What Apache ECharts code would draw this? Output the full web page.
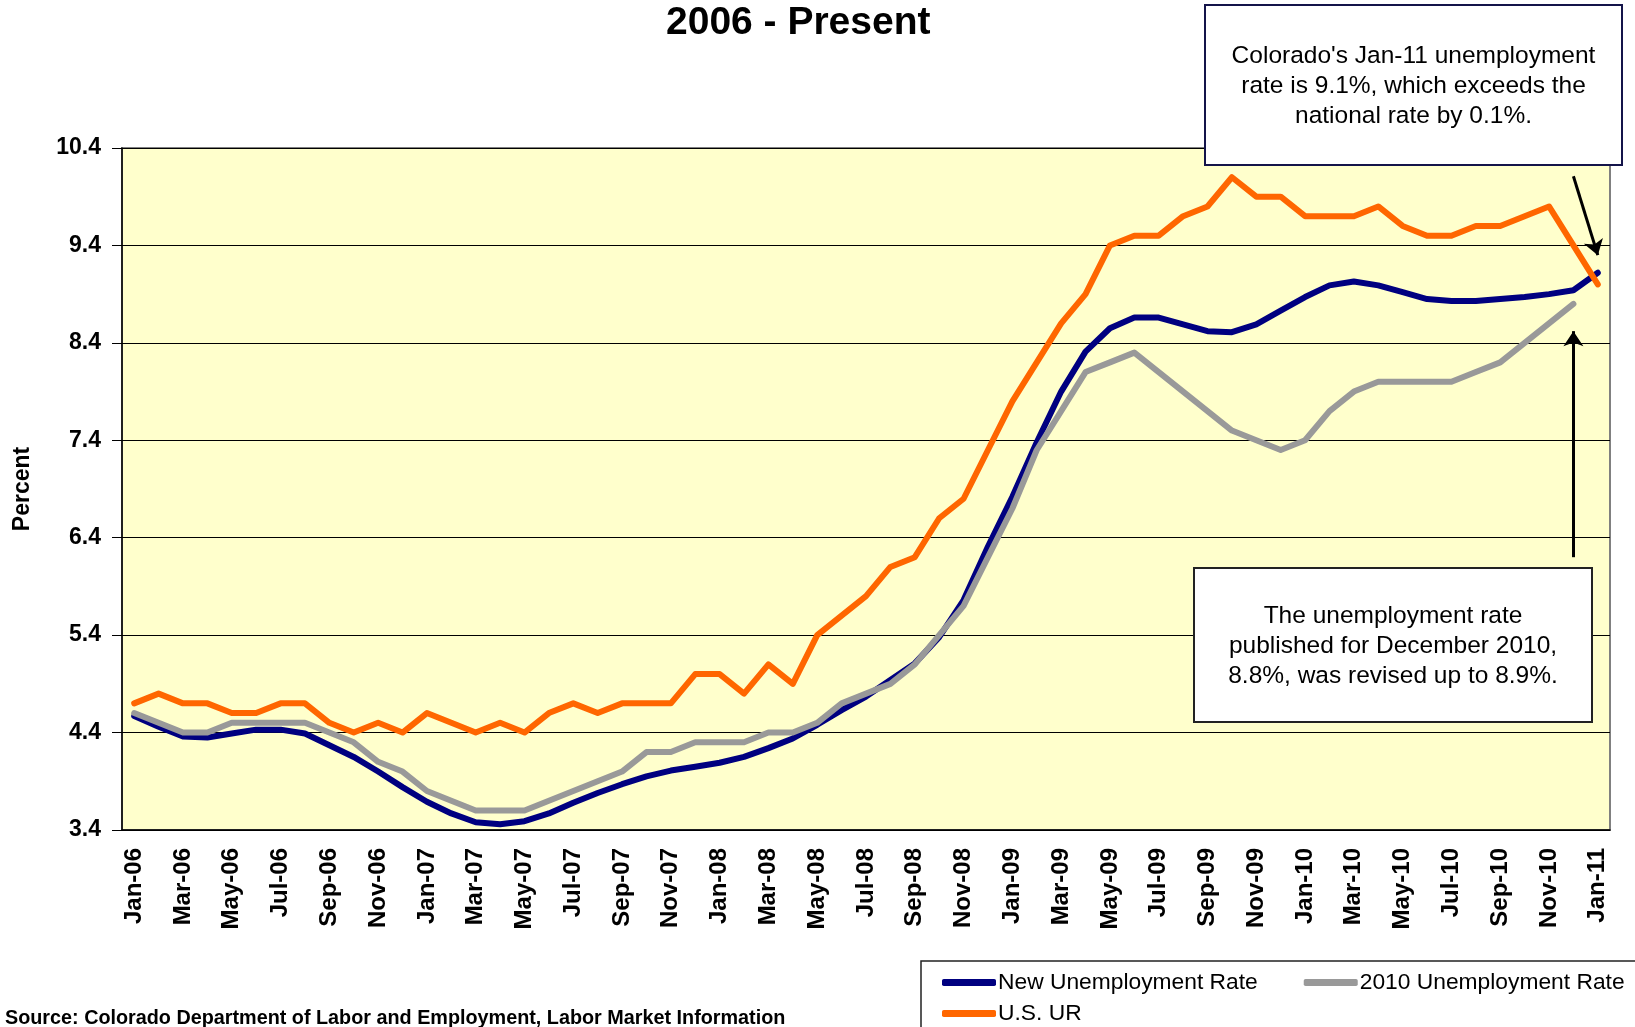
<!DOCTYPE html>
<html>
<head>
<meta charset="utf-8">
<title>Colorado unemployment rate 2006 - Present</title>
<script src="https://cdn.jsdelivr.net/npm/echarts@6/dist/echarts.min.js"></script>
<style>
  html, body { margin: 0; padding: 0; background: #fff; }
  #main { width: 1635px; height: 1027px; }
</style>
</head>
<body>
<div id="main"></div>
<script>
var FONT = '"Liberation Sans", Arial, sans-serif';

var months = [
    'Jan-06', 'Feb-06', 'Mar-06', 'Apr-06', 'May-06', 'Jun-06', 'Jul-06', 'Aug-06', 'Sep-06', 'Oct-06', 'Nov-06', 'Dec-06',
    'Jan-07', 'Feb-07', 'Mar-07', 'Apr-07', 'May-07', 'Jun-07', 'Jul-07', 'Aug-07', 'Sep-07', 'Oct-07', 'Nov-07', 'Dec-07',
    'Jan-08', 'Feb-08', 'Mar-08', 'Apr-08', 'May-08', 'Jun-08', 'Jul-08', 'Aug-08', 'Sep-08', 'Oct-08', 'Nov-08', 'Dec-08',
    'Jan-09', 'Feb-09', 'Mar-09', 'Apr-09', 'May-09', 'Jun-09', 'Jul-09', 'Aug-09', 'Sep-09', 'Oct-09', 'Nov-09', 'Dec-09',
    'Jan-10', 'Feb-10', 'Mar-10', 'Apr-10', 'May-10', 'Jun-10', 'Jul-10', 'Aug-10', 'Sep-10', 'Oct-10', 'Nov-10', 'Dec-10',
    'Jan-11'
];

// Colorado, revised series
var newRate = [
    4.57, 4.46, 4.36, 4.35, 4.39, 4.43, 4.43, 4.39, 4.27, 4.15, 4.0, 3.84,
    3.69, 3.57, 3.48, 3.46, 3.49, 3.57, 3.68, 3.78, 3.87, 3.95, 4.01, 4.05,
    4.09, 4.15, 4.24, 4.34, 4.48, 4.63, 4.77, 4.94, 5.11, 5.38, 5.76, 6.31,
    6.82, 7.38, 7.9, 8.31, 8.55, 8.66, 8.66, 8.59, 8.52, 8.51, 8.59, 8.73,
    8.87, 8.99, 9.03, 8.99, 8.92, 8.85, 8.83, 8.83, 8.85, 8.87, 8.9, 8.94,
    9.12
];

// Colorado, series as published in 2010 (ends Dec-10)
var oldRate = [
    4.6, 4.5, 4.4, 4.4, 4.5, 4.5, 4.5, 4.5, 4.4, 4.3, 4.1, 4.0,
    3.8, 3.7, 3.6, 3.6, 3.6, 3.7, 3.8, 3.9, 4.0, 4.2, 4.2, 4.3,
    4.3, 4.3, 4.4, 4.4, 4.5, 4.7, 4.8, 4.9, 5.1, 5.4, 5.7, 6.2,
    6.7, 7.3, 7.7, 8.1, 8.2, 8.3, 8.1, 7.9, 7.7, 7.5, 7.4, 7.3,
    7.4, 7.7, 7.9, 8.0, 8.0, 8.0, 8.0, 8.1, 8.2, 8.4, 8.6, 8.8,
    null
];

var usRate = [
    4.7, 4.8, 4.7, 4.7, 4.6, 4.6, 4.7, 4.7, 4.5, 4.4, 4.5, 4.4,
    4.6, 4.5, 4.4, 4.5, 4.4, 4.6, 4.7, 4.6, 4.7, 4.7, 4.7, 5.0,
    5.0, 4.8, 5.1, 4.9, 5.4, 5.6, 5.8, 6.1, 6.2, 6.6, 6.8, 7.3,
    7.8, 8.2, 8.6, 8.9, 9.4, 9.5, 9.5, 9.7, 9.8, 10.1, 9.9, 9.9,
    9.7, 9.7, 9.7, 9.8, 9.6, 9.5, 9.5, 9.6, 9.6, 9.7, 9.8, 9.4,
    9.0
];

var seriesNames = ['New Unemployment Rate', '2010 Unemployment Rate', 'U.S. UR'];

// y axis: 3.4 .. 10.4 step 1
var yMin = 3.4, yMax = 10.4, yStep = 1;

// annotation arrows (from -> to), in chart coordinates
var arrowTop = [['Dec-10', 10.11], ['Jan-11', 9.3]];
var arrowBottom = [['Dec-10', 6.2], ['Dec-10', 8.52]];

var note1 = "Colorado's Jan-11 unemployment\nrate is 9.1%, which exceeds the\nnational rate by 0.1%.";
var note2 = 'The unemployment rate\npublished for December 2010,\n8.8%, was revised up to 8.9%.';

var chartDom = document.getElementById('main');
var myChart = echarts.init(chartDom);
var option;

function lineSeries(name, data, color) {
    return {
        name: name,
        type: 'line',
        data: data,
        symbol: 'none',
        connectNulls: false,
        itemStyle: { color: color },
        lineStyle: { color: color, width: 6, cap: 'round', join: 'round' },
        emphasis: { disabled: true }
    };
}

var navy = lineSeries(seriesNames[0], newRate, '#000080');
var gray = lineSeries(seriesNames[1], oldRate, '#999999');
var orange = lineSeries(seriesNames[2], usRate, '#FF6600');

// arrows that point to the last values
orange.markLine = {
    silent: true,
    animation: false,
    symbol: ['none', 'arrow'],
    symbolSize: 15,
    label: { show: false },
    lineStyle: { color: '#000', width: 3, type: 'solid' },
    data: [
        [{ coord: arrowTop[0] }, { coord: arrowTop[1] }],
        [{ coord: arrowBottom[0] }, { coord: arrowBottom[1] }]
    ]
};

function noteBox(x, y, w, h, stroke, text) {
    return {
        type: 'group',
        z: 100,
        silent: true,
        children: [
            {
                type: 'rect',
                z: 100,
                shape: { x: x, y: y, width: w, height: h },
                style: { fill: '#fff', stroke: stroke, lineWidth: 2 }
            },
            {
                type: 'text',
                z: 101,
                style: {
                    x: x + w / 2, y: y + h / 2 + 1,
                    text: text,
                    align: 'center',
                    verticalAlign: 'middle',
                    lineHeight: 30,
                    font: '24.5px ' + FONT,
                    fill: '#000'
                }
            }
        ]
    };
}

option = {
    animation: false,
    backgroundColor: '#fff',
    textStyle: { fontFamily: FONT, color: '#000' },
    title: [
        {
            text: '2006 - Present',
            left: 666,
            top: 4,
            padding: 0,
            textStyle: { fontFamily: FONT, fontSize: 39, fontWeight: 'bold', color: '#000' }
        },
        {
            text: 'Source: Colorado Department of Labor and Employment, Labor Market Information',
            left: 5,
            top: 1009,
            padding: 0,
            textStyle: { fontFamily: FONT, fontSize: 19.8, fontWeight: 'bold', color: '#000' }
        }
    ],
    grid: {
        left: 122,
        right: 25,
        top: 148,
        bottom: 197,
        show: true,
        backgroundColor: '#FFFFCC',
        borderColor: '#808080',
        borderWidth: 2
    },
    xAxis: {
        type: 'category',
        data: months,
        boundaryGap: true,
        axisLine: { lineStyle: { color: '#000', width: 1.5 } },
        axisTick: { interval: 1, length: 8, lineStyle: { color: '#000' } },
        axisLabel: {
            interval: 1,
            rotate: 90,
            margin: 18,
            fontFamily: FONT,
            fontSize: 24,
            fontWeight: 'bold',
            color: '#000'
        },
        splitLine: { show: false }
    },
    yAxis: {
        type: 'value',
        min: yMin,
        max: yMax,
        interval: yStep,
        name: 'Percent',
        nameLocation: 'middle',
        nameRotate: 90,
        nameGap: 88,
        nameTextStyle: { fontFamily: FONT, fontSize: 23, fontWeight: 'bold', color: '#000' },
        axisLine: { show: true, lineStyle: { color: '#000', width: 1.5 } },
        axisTick: { show: true, length: 10, lineStyle: { color: '#000' } },
        axisLabel: {
            margin: 21,
            fontFamily: FONT,
            fontSize: 23,
            fontWeight: 'bold',
            color: '#000',
            formatter: function (v) { return v.toFixed(1); }
        },
        splitLine: { lineStyle: { color: '#000', width: 1 } }
    },
    legend: [
        {
            data: [seriesNames[0], seriesNames[1]],
            left: 942,
            top: 971,
            padding: 0,
            icon: 'roundRect',
            itemWidth: 54,
            itemHeight: 7,
            itemGap: 46,
            selectedMode: false,
            textStyle: { fontFamily: FONT, fontSize: 22.8, color: '#000', padding: [0, 0, 0, -3] }
        },
        {
            data: [seriesNames[2]],
            left: 942,
            top: 1002,
            padding: 0,
            icon: 'roundRect',
            itemWidth: 54,
            itemHeight: 7,
            selectedMode: false,
            textStyle: { fontFamily: FONT, fontSize: 22.8, color: '#000', padding: [0, 0, 0, -3] }
        }
    ],
    graphic: [
        {
            // legend frame
            type: 'rect',
            z: 1,
            silent: true,
            shape: { x: 921, y: 961, width: 800, height: 120 },
            style: { fill: 'none', stroke: '#222', lineWidth: 1.5 }
        },
        noteBox(1205, 5, 417, 160, '#14144a', note1),
        noteBox(1194, 568, 398, 154, '#222', note2)
    ],
    series: [navy, gray, orange]
};

option && myChart.setOption(option);
</script>
</body>
</html>
